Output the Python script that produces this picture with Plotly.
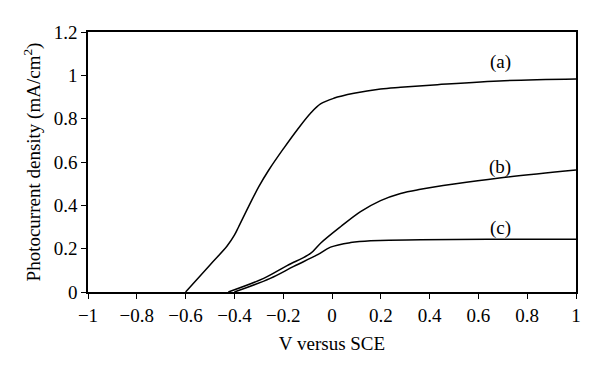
import plotly.graph_objects as go

# Curve (a)
xa = [-0.6, -0.5, -0.43, -0.4, -0.383, -0.342, -0.3, -0.259, -0.198, -0.143, -0.088, -0.047, 0.007, 0.09, 0.199, 0.281, 0.432, 0.706, 1.0]
ya = [0.0, 0.125, 0.212, 0.262, 0.3, 0.394, 0.486, 0.563, 0.663, 0.748, 0.825, 0.868, 0.894, 0.917, 0.937, 0.945, 0.957, 0.975, 0.983]
# Curve (b)
xb = [-0.425, -0.28, -0.184, -0.088, -0.047, 0.035, 0.117, 0.199, 0.281, 0.363, 0.5, 0.678, 1.0]
yb = [0.0, 0.063, 0.122, 0.178, 0.225, 0.301, 0.371, 0.422, 0.455, 0.474, 0.498, 0.525, 0.563]
# Curve (c)
xc = [-0.4, -0.253, -0.157, -0.061, -0.006, 0.076, 0.158, 0.363, 0.637, 1.0]
yc = [0.0, 0.063, 0.118, 0.171, 0.207, 0.228, 0.237, 0.241, 0.243, 0.243]

labels = ["(a)", "(b)", "(c)"]
label_x = [0.69, 0.69, 0.69]
label_y = [1.06, 0.575, 0.295]

xticks = [-1, -0.8, -0.6, -0.4, -0.2, 0, 0.2, 0.4, 0.6, 0.8, 1]
xticktext = ["\u22121", "\u22120.8", "\u22120.6", "\u22120.4", "\u22120.2", "0", "0.2", "0.4", "0.6", "0.8", "1"]
yticks = [0, 0.2, 0.4, 0.6, 0.8, 1, 1.2]
yticktext = ["0", "0.2", "0.4", "0.6", "0.8", "1", "1.2"]

FONT = "Liberation Serif, Times New Roman, serif"
FS = 19

fig = go.Figure()
for xs, ys in [(xa, ya), (xb, yb), (xc, yc)]:
    fig.add_trace(go.Scatter(x=xs, y=ys, mode="lines",
                             line=dict(color="black", width=1.5, shape="spline", smoothing=1.0),
                             showlegend=False, hoverinfo="skip"))

for t, lx, ly in zip(labels, label_x, label_y):
    fig.add_annotation(x=lx, y=ly, text=t, showarrow=False,
                       font=dict(family=FONT, size=FS, color="black"))

fig.update_layout(
    width=600, height=374,
    margin=dict(l=88, r=24, t=32, b=82),
    paper_bgcolor="white", plot_bgcolor="white",
    font=dict(family=FONT, size=FS, color="black"),
    xaxis=dict(range=[-1, 1], tickvals=xticks, ticktext=xticktext, automargin=False,
               showgrid=False, zeroline=False, showline=True, linecolor="black", linewidth=1.5,
               mirror=True, ticks="outside", ticklen=5, tickcolor="black", tickwidth=1,
               tickfont=dict(family=FONT, size=FS),
               title=dict(text="V versus SCE", font=dict(family=FONT, size=FS), standoff=12)),
    yaxis=dict(range=[0, 1.2], tickvals=yticks, ticktext=yticktext, automargin=False,
               showgrid=False, zeroline=False, showline=True, linecolor="black", linewidth=1.5,
               mirror=True, ticks="outside", ticklen=5, tickcolor="black", tickwidth=1,
               tickfont=dict(family=FONT, size=FS),
               title=dict(text="Photocurrent density (mA/cm<sup>2</sup>)", font=dict(family=FONT, size=FS), standoff=8)),
)

fig.write_html("out.html", config={"displayModeBar": False},
               post_script="document.body.style.margin='0';document.body.style.overflow='hidden';")
